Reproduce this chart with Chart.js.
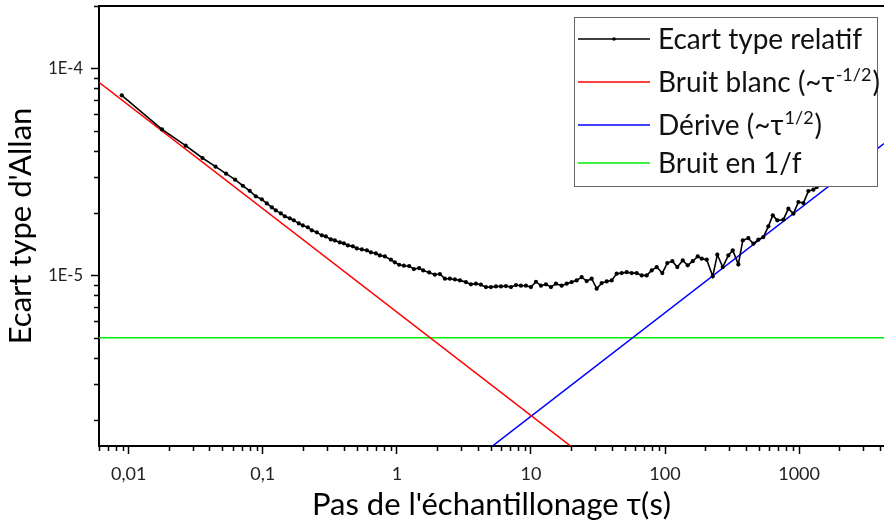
<!DOCTYPE html>
<html lang="fr">
<head>
<meta charset="UTF-8">
<title>Ecart type d'Allan</title>
<script src="https://cdn.jsdelivr.net/npm/chart.js@4.4.1/dist/chart.umd.min.js"></script>
<style>
  html, body { margin: 0; padding: 0; background: #fff; }
  #chart { display: block; }
</style>
</head>
<body>
<canvas id="chart" width="884" height="530"></canvas>
<script>
// ---- valeurs ----
// écart type relatif (points noirs)
const tau = [
  0.00887, 0.0177, 0.0266, 0.0355, 0.0444, 0.0532, 0.0621, 0.0710, 0.0798, 0.0887,
  0.0983, 0.1071, 0.1168, 0.125, 0.1363, 0.146, 0.159, 0.1703, 0.1856, 0.1988,
  0.2167, 0.2321, 0.2529, 0.2756, 0.2953, 0.3217, 0.3446, 0.3754, 0.4022, 0.4309,
  0.4695, 0.5029, 0.548, 0.5971, 0.6397, 0.697, 0.7465, 0.8135,
  0.902, 0.966, 1.040, 1.128, 1.235, 1.339, 1.467, 1.571, 1.742, 1.921,
  2.094, 2.281, 2.486, 2.709, 2.953, 3.273, 3.566, 3.887, 4.236, 4.616,
  5.029, 5.481, 5.973, 6.509, 7.093, 7.730, 8.423, 9.179, 10.00, 10.90,
  11.88, 12.94, 14.10, 15.37,
  16.95, 18.47, 20.13, 21.93, 23.90, 26.04, 28.38, 30.93, 33.70, 36.72,
  40.02, 43.62, 47.53, 51.79, 56.43, 61.50, 67.01, 73.02, 79.56, 86.73,
  95.48, 104.0, 113.4, 123.5, 135.6, 147.7, 161.0, 175.4,
  187.9, 204.7, 227.0, 245.6, 269.5, 296.8, 320.1, 352.4, 380.2, 418.5,
  456.1, 496.9, 541.5, 590.1, 636.6, 688.7, 763.6, 832.1, 907.0, 988.1,
  1077, 1173, 1279, 1356
];
const sigma = [
  7.41e-5, 5.07e-5, 4.23e-5, 3.69e-5, 3.35e-5, 3.10e-5, 2.90e-5, 2.71e-5, 2.56e-5, 2.41e-5,
  2.33e-5, 2.227e-5, 2.13e-5, 2.06e-5, 1.993e-5, 1.928e-5, 1.886e-5, 1.844e-5, 1.783e-5, 1.744e-5,
  1.706e-5, 1.650e-5, 1.614e-5, 1.561e-5, 1.543e-5, 1.492e-5, 1.476e-5, 1.443e-5, 1.428e-5, 1.396e-5,
  1.381e-5, 1.350e-5, 1.335e-5, 1.321e-5, 1.292e-5, 1.277e-5, 1.249e-5, 1.235e-5,
  1.191e-5, 1.156e-5, 1.126e-5, 1.114e-5, 1.109e-5, 1.073e-5, 1.085e-5, 1.057e-5, 1.034e-5, 1.008e-5,
  1.015e-5, 9.64e-6, 9.64e-6, 9.56e-6, 9.46e-6, 9.28e-6, 9.05e-6, 9.12e-6, 9.02e-6, 8.78e-6,
  8.78e-6, 8.85e-6, 8.85e-6, 8.88e-6, 8.78e-6, 8.98e-6, 8.92e-6, 8.92e-6, 8.78e-6, 9.32e-6,
  8.92e-6, 9.05e-6, 8.78e-6, 9.12e-6,
  8.92e-6, 9.12e-6, 9.28e-6, 9.46e-6, 9.81e-6, 9.39e-6, 9.64e-6, 8.63e-6, 9.18e-6, 9.35e-6,
  9.46e-6, 1.019e-5, 1.026e-5, 1.037e-5, 1.026e-5, 1.026e-5, 1.000e-5, 1.000e-5, 1.057e-5, 1.097e-5,
  1.026e-5, 1.147e-5, 1.172e-5, 1.097e-5, 1.181e-5, 1.118e-5, 1.172e-5, 1.235e-5,
  1.204e-5, 1.191e-5, 9.9e-6, 1.259e-5, 1.097e-5, 1.249e-5, 1.321e-5, 1.130e-5, 1.476e-5, 1.514e-5,
  1.423e-5, 1.487e-5, 1.531e-5, 1.725e-5, 1.950e-5, 1.844e-5, 1.858e-5, 2.100e-5, 1.987e-5, 2.260e-5,
  2.235e-5, 2.554e-5, 2.594e-5, 2.670e-5
];

// droites d'ajustement (extrémités)
const whiteTau = [0.006, 20];
const whiteSigma = [8.56e-5, 1.49e-6];
const driftTau = [5.1, 4300];
const driftSigma = [1.49e-6, 4.33e-5];
const flickerTau = [0.006, 4300];
const flickerSigma = [5e-6, 5e-6];

// axes
const xMin = 0.006, xMax = 4300;
const yMin = 1.5e-6, yMax = 2e-4;
const xMajor = [0.01, 0.1, 1, 10, 100, 1000];
const xMajorLabels = ['0,01', '0,1', '1', '10', '100', '1000'];
const yMajor = [1e-5, 1e-4];
const yMajorLabels = ['1E-5', '1E-4'];

// légende
const legendItems = [
  { text: 'Ecart type relatif', color: '#000000', marker: true },
  { text: 'Bruit blanc (~τ', sup: '-1/2', tail: ')', color: '#ff0000' },
  { text: 'Dérive (~τ', sup: '1/2', tail: ')', color: '#0000ff' },
  { text: 'Bruit en 1/f', color: '#00ee00' }
];

const FONT = 'Lato';

function toPoints(xs, ys) {
  return xs.map((x, i) => ({ x: x, y: ys[i] }));
}

// graduations log : 1..9 x 10^n
function logTicks(min, max) {
  const out = [];
  for (let e = Math.floor(Math.log10(min)); e <= Math.ceil(Math.log10(max)); e++) {
    for (let m = 1; m <= 9; m++) {
      const v = m * Math.pow(10, e);
      if (v >= min * 0.999 && v <= max * 1.001) out.push({ value: v });
    }
  }
  return out;
}

function findMajor(list, v) {
  return list.findIndex(m => Math.abs(m - v) / m < 1e-6);
}

const framePlugin = {
  id: 'frame',
  afterDatasetsDraw(chart) {
    const ctx = chart.ctx, a = chart.chartArea;
    const xs = chart.scales.x, ys = chart.scales.y;
    ctx.save();
    ctx.strokeStyle = '#000';
    ctx.lineWidth = 1.5;
    ctx.beginPath();
    // petites graduations
    xs.ticks.forEach(t => {
      if (findMajor(xMajor, t.value) >= 0) return;
      const px = Math.round(xs.getPixelForValue(t.value)) + 0.5;
      ctx.moveTo(px, a.bottom);
      ctx.lineTo(px, a.bottom + 5);
    });
    ys.ticks.forEach(t => {
      if (findMajor(yMajor, t.value) >= 0) return;
      const py = Math.round(ys.getPixelForValue(t.value)) + 0.5;
      ctx.moveTo(a.left - 5, py);
      ctx.lineTo(a.left, py);
    });
    ctx.stroke();
    // cadre du haut
    ctx.lineWidth = 2;
    ctx.beginPath();
    ctx.moveTo(a.left, a.top);
    ctx.lineTo(a.right, a.top);
    ctx.stroke();
    ctx.restore();
  },
  afterDraw(chart) {
    const ctx = chart.ctx, a = chart.chartArea;
    const w = 303, h = 169;
    const x0 = a.right - 310, y0 = a.top + 11;
    const rowBase = [32, 75, 118, 156];
    ctx.save();
    ctx.fillStyle = '#fff';
    ctx.fillRect(x0, y0, w, h);
    ctx.strokeStyle = '#666';
    ctx.lineWidth = 1;
    ctx.strokeRect(x0 + 0.5, y0 + 0.5, w, h);
    legendItems.forEach((item, i) => {
      const by = y0 + rowBase[i];
      const ly = by - 10;
      ctx.strokeStyle = item.color;
      ctx.lineWidth = 1.5;
      ctx.beginPath();
      ctx.moveTo(x0 + 4, ly);
      ctx.lineTo(x0 + 76, ly);
      ctx.stroke();
      if (item.marker) {
        ctx.fillStyle = item.color;
        ctx.beginPath();
        ctx.arc(x0 + 40, ly, 1.8, 0, Math.PI * 2);
        ctx.fill();
      }
      ctx.fillStyle = '#111';
      ctx.textBaseline = 'alphabetic';
      ctx.textAlign = 'left';
      let tx = x0 + 84;
      ctx.font = '28px ' + FONT;
      ctx.fillText(item.text, tx, by);
      tx += ctx.measureText(item.text).width;
      if (item.sup) {
        ctx.font = '18px ' + FONT;
        ctx.fillText(item.sup, tx + 1, by - 11);
        tx += ctx.measureText(item.sup).width + 2;
        ctx.font = '28px ' + FONT;
        ctx.fillText(item.tail, tx, by);
      }
    });
    ctx.restore();
  }
};

new Chart(document.getElementById('chart'), {
  type: 'line',
  data: {
    datasets: [
      {
        label: 'Ecart type relatif',
        data: toPoints(tau, sigma),
        borderColor: '#000',
        backgroundColor: '#000',
        borderWidth: 1.6,
        pointRadius: 2.1,
        pointBorderWidth: 0,
        pointBackgroundColor: '#000',
        tension: 0
      },
      {
        label: 'Bruit blanc',
        data: toPoints(whiteTau, whiteSigma),
        borderColor: '#ff0000',
        borderWidth: 1.5,
        pointRadius: 0
      },
      {
        label: 'Dérive',
        data: toPoints(driftTau, driftSigma),
        borderColor: '#0000ff',
        borderWidth: 1.5,
        pointRadius: 0
      },
      {
        label: 'Bruit en 1/f',
        data: toPoints(flickerTau, flickerSigma),
        borderColor: '#00ee00',
        borderWidth: 1.5,
        pointRadius: 0
      }
    ]
  },
  options: {
    responsive: false,
    animation: false,
    devicePixelRatio: 1,
    layout: { autoPadding: false, padding: { top: 6, right: 0, bottom: 0, left: 0 } },
    plugins: {
      legend: { display: false },
      tooltip: { enabled: false }
    },
    scales: {
      x: {
        type: 'logarithmic',
        min: xMin,
        max: xMax,
        afterBuildTicks: s => { s.ticks = logTicks(xMin, xMax); },
        afterFit: s => { s.height = 84; s.paddingLeft = 0; s.paddingRight = 0; },
        ticks: {
          autoSkip: false,
          maxRotation: 0,
          padding: 9,
          color: '#222',
          font: { family: FONT, size: 18 },
          callback: v => {
            const i = findMajor(xMajor, v);
            return i >= 0 ? xMajorLabels[i] : '';
          }
        },
        grid: {
          drawOnChartArea: false,
          drawTicks: true,
          tickLength: 8,
          tickWidth: 1.5,
          tickColor: c => (c.tick && findMajor(xMajor, c.tick.value) >= 0) ? '#000' : 'rgba(0,0,0,0)'
        },
        border: { display: true, color: '#000', width: 2 },
        title: {
          display: true,
          text: "Pas de l'échantillonage τ(s)",
          color: '#000',
          font: { family: FONT, size: 31 },
          padding: { top: 0, bottom: 6 }
        }
      },
      y: {
        type: 'logarithmic',
        min: yMin,
        max: yMax,
        afterBuildTicks: s => { s.ticks = logTicks(yMin, yMax); },
        afterFit: s => { s.width = 99; s.paddingTop = 0; s.paddingBottom = 0; },
        ticks: {
          autoSkip: false,
          padding: 8,
          color: '#222',
          font: { family: FONT, size: 16.5 },
          callback: v => {
            const i = findMajor(yMajor, v);
            return i >= 0 ? yMajorLabels[i] : '';
          }
        },
        grid: {
          drawOnChartArea: false,
          drawTicks: true,
          tickLength: 8,
          tickWidth: 1.5,
          tickColor: c => (c.tick && findMajor(yMajor, c.tick.value) >= 0) ? '#000' : 'rgba(0,0,0,0)'
        },
        border: { display: true, color: '#000', width: 2 },
        title: {
          display: true,
          text: "Ecart type d'Allan",
          color: '#000',
          font: { family: FONT, size: 31 },
          padding: { top: 2, bottom: 0 }
        }
      }
    }
  },
  plugins: [framePlugin]
});
</script>
</body>
</html>
